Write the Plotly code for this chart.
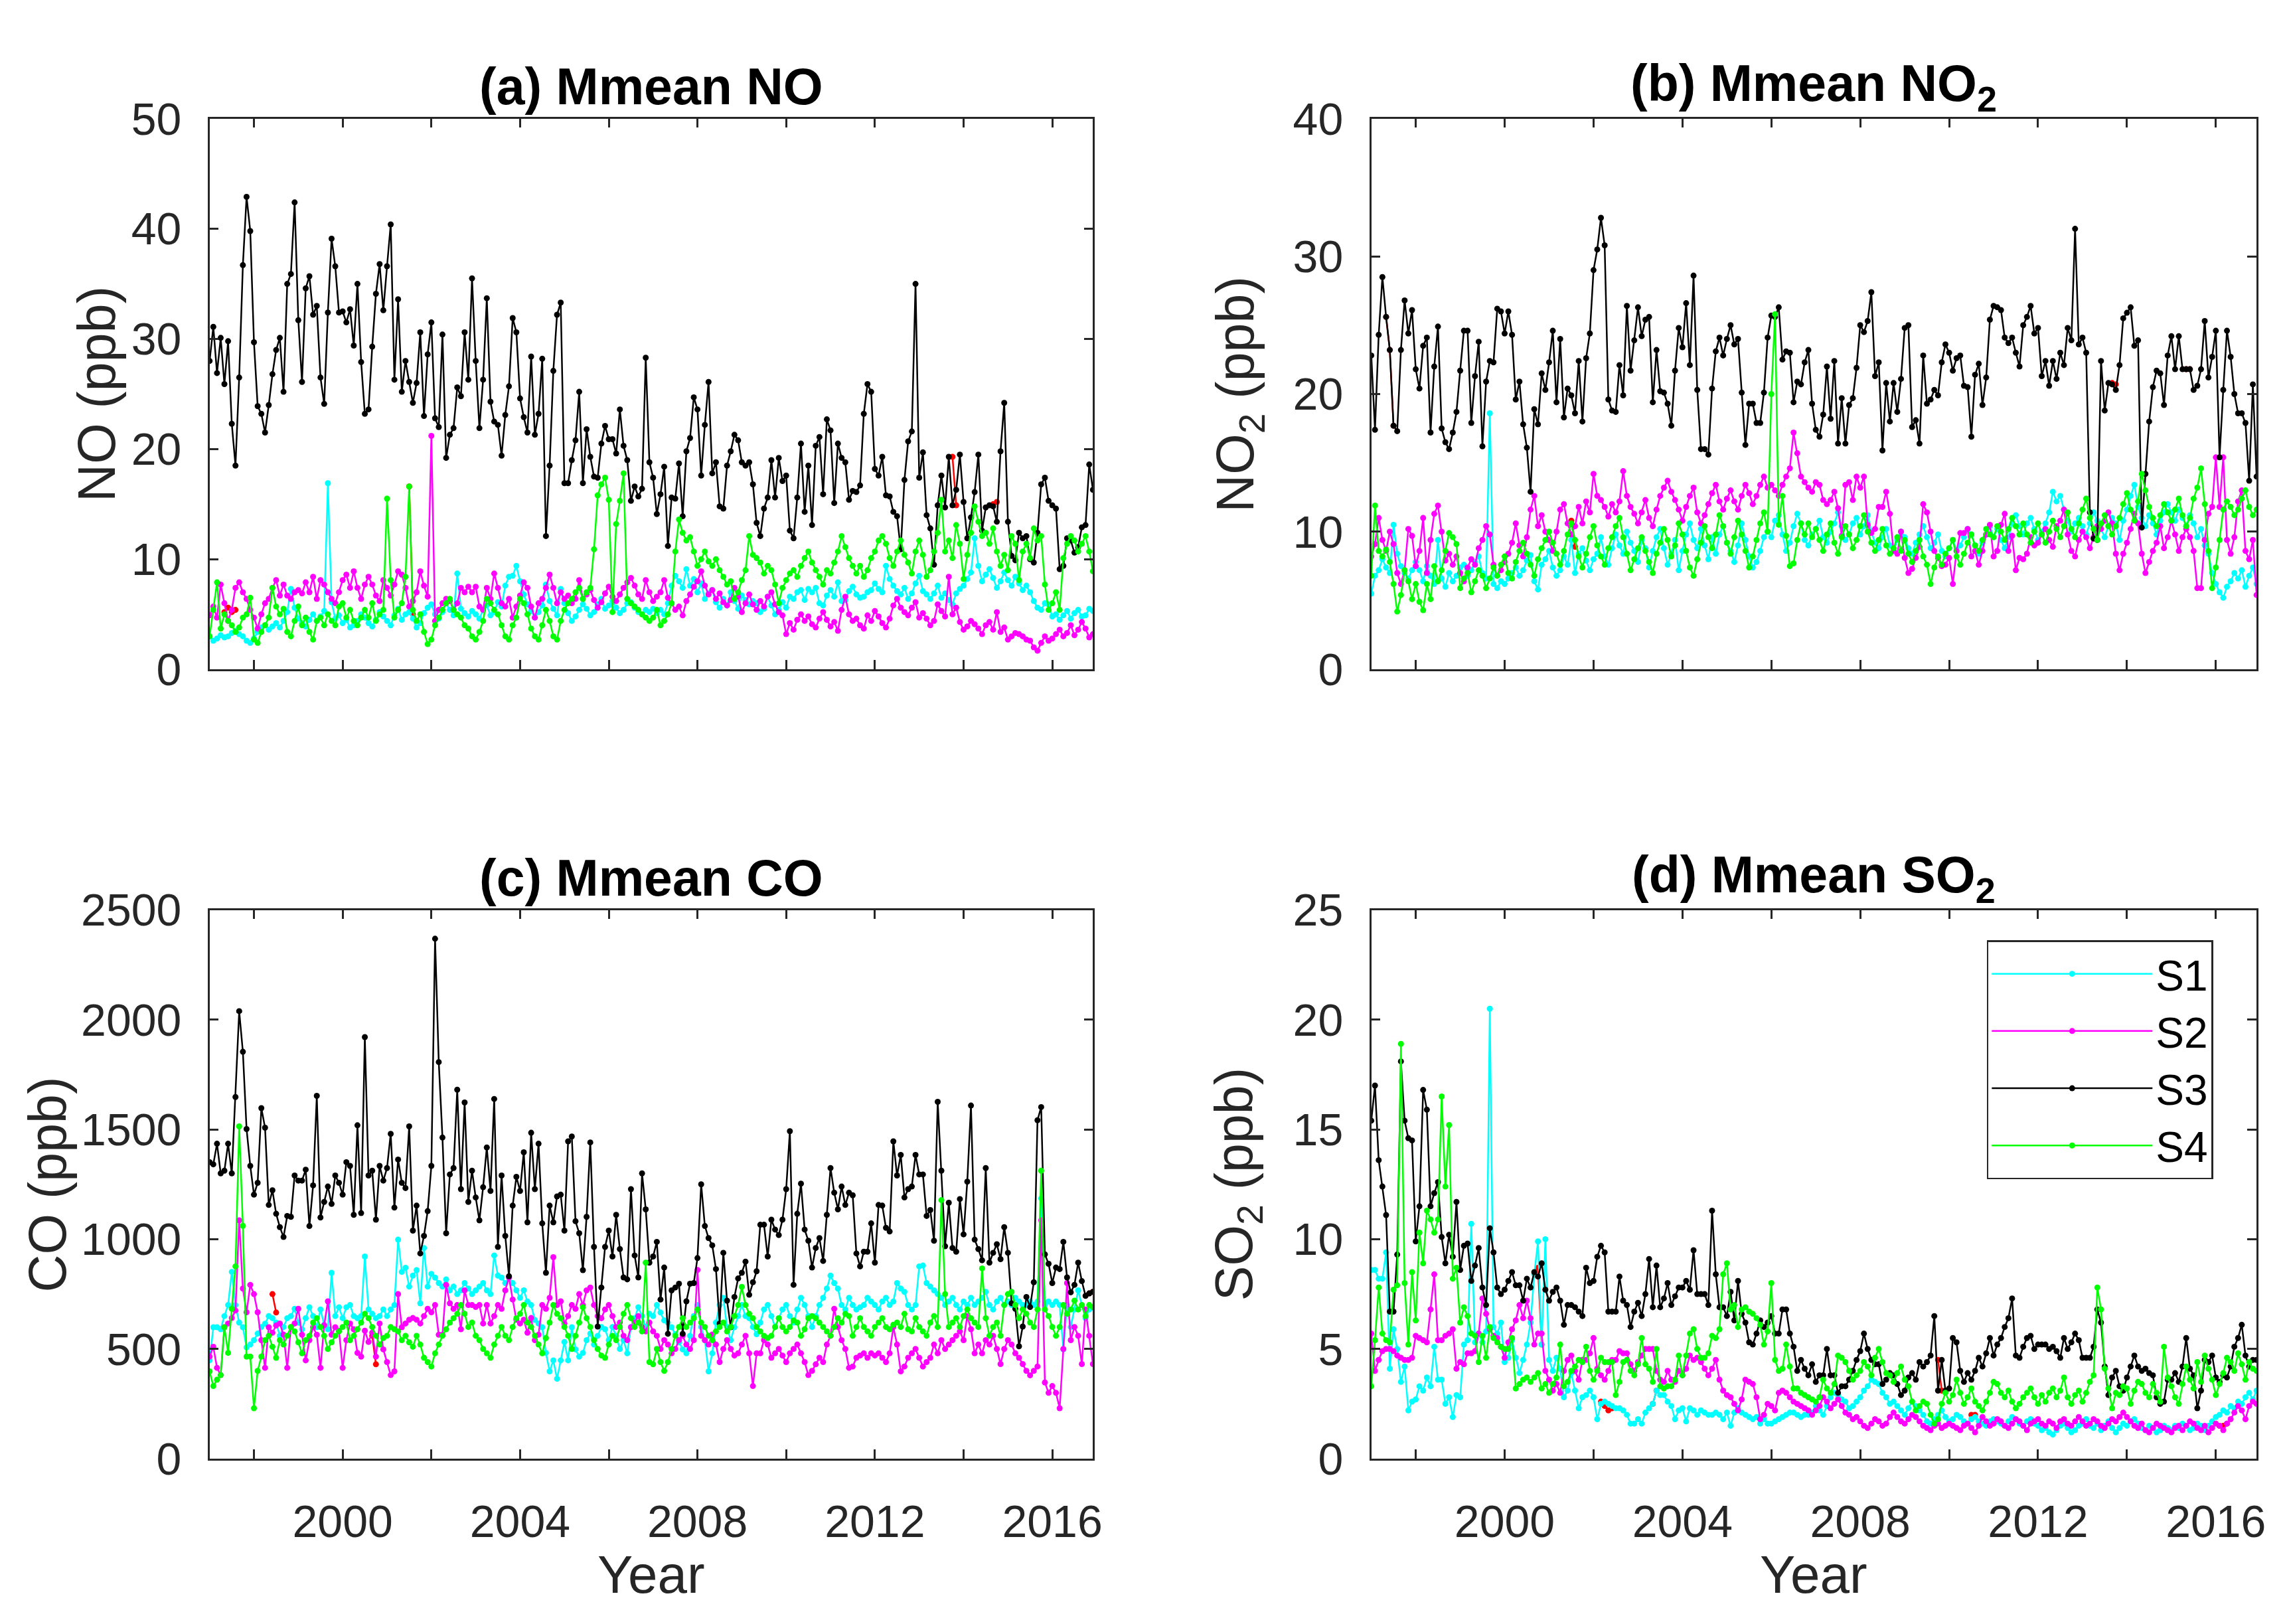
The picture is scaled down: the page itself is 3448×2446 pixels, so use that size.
import plotly.graph_objects as go

# monthly means, Jan 1997 .. Dec 2016 (one value per month)
START_YEAR = 1997

# ---------------- (a) NO (ppb) ----------------
no_s1 = [
    3.0, 2.6, 2.8, 3.1, 2.9, 3.0, 3.3, 3.5, 3.2, 3.0, 2.6, 2.4,
    2.8, 3.4, 3.8, 4.0, 3.6, 3.9, 4.2, 3.8, 4.4, 5.2, 7.3, 5.6,
    4.6, 4.2, 3.9, 4.5, 5.0, 4.4, 4.8, 5.3, 16.9, 6.1, 4.6, 4.9,
    4.2, 4.5, 3.8, 4.0, 4.4, 5.0, 4.7, 4.2, 3.9, 4.5, 5.2, 4.8,
    4.4, 4.0, 4.9, 5.5, 4.5, 5.0, 5.2, 4.6, 3.8, 4.2, 5.1, 5.6,
    5.9, 5.0, 4.6, 5.2, 6.0, 5.4, 4.9, 8.7, 5.5, 5.1, 4.8, 5.3,
    5.0, 4.6, 5.4, 5.8, 4.9, 5.2, 6.1, 5.7, 7.6, 8.4, 8.5, 9.4,
    8.0, 6.8, 5.9, 5.3, 4.7, 5.2, 5.8, 7.7, 6.2, 5.5, 4.9, 7.3,
    6.0, 5.1, 4.4, 4.8, 5.4, 5.9, 5.5, 4.9, 5.2, 5.9, 6.4, 5.5,
    5.8, 6.2, 5.6, 5.1, 5.4, 6.0, 6.1, 5.6, 5.2, 5.0, 5.4, 5.2,
    5.5, 5.1, 5.4, 5.0, 6.0, 7.6, 8.5, 8.0, 7.4, 9.1, 7.6, 8.2,
    7.0, 7.8, 6.4, 6.9, 7.2, 6.1, 5.6, 6.4, 5.8, 7.0, 6.2, 5.5,
    6.7, 6.3, 5.9, 6.2, 6.0, 5.2, 5.5, 6.6, 5.8, 5.0, 5.4, 6.1,
    5.6, 6.6, 6.4, 7.0, 7.2, 6.3, 7.3, 7.0, 7.4, 6.0, 5.8, 6.7,
    7.2, 6.6, 7.9, 6.2, 6.3, 7.1, 7.5, 6.8, 6.5, 6.6, 7.0, 7.2,
    7.8, 7.3, 7.0, 9.4, 8.2, 7.6, 7.1, 6.8, 7.4, 6.4, 6.9, 7.8,
    8.5, 7.1, 6.8, 6.4, 6.9, 7.6, 6.5, 6.9, 6.3, 5.9, 6.9, 7.3,
    7.6, 8.2, 8.8, 11.9, 9.4, 8.0, 8.6, 9.1, 8.3, 7.4, 8.0, 8.8,
    8.1, 7.6, 8.4, 7.8, 7.2, 7.6, 7.0, 6.2, 5.6, 5.4, 6.0, 5.9,
    4.8, 5.0, 4.5, 4.9, 5.3, 4.6, 5.1, 5.4, 4.8, 4.9, 5.5, 5.3,
]
no_s2 = [
    4.9, 5.7, 4.7, 7.7, 6.0, 4.4, 5.4, 7.4, 7.9, 7.0, 6.4, 5.4,
    4.7, 3.7, 5.0, 6.0, 6.4, 7.4, 8.1, 6.7, 7.7, 6.7, 6.4, 7.0,
    7.2, 6.9, 7.9, 7.0, 8.4, 6.4, 8.1, 7.7, 7.0, 6.4, 6.0, 7.0,
    8.1, 8.6, 7.4, 8.9, 7.4, 6.4, 7.7, 8.4, 7.7, 6.7, 6.2, 8.1,
    7.4, 6.7, 7.7, 8.9, 8.6, 7.4, 5.7, 6.2, 7.0, 8.9, 7.6, 6.6,
    21.2, 4.4, 5.4, 6.0, 6.4, 6.2, 5.4, 6.0, 7.4, 7.0, 7.5, 7.0,
    7.5, 5.7, 5.4, 7.4, 6.4, 8.7, 7.4, 6.0, 5.7, 6.4, 4.7, 5.7,
    6.7, 7.9, 7.4, 5.7, 4.7, 6.0, 6.4, 7.4, 8.6, 7.4, 6.0, 7.0,
    6.4, 6.7, 6.0, 6.4, 8.1, 6.4, 6.8, 7.2, 6.3, 5.6, 6.1, 6.9,
    7.5, 6.6, 6.2, 6.8, 7.4, 7.9, 8.3, 7.6, 6.8, 6.4, 8.1, 7.0,
    6.2, 6.6, 7.0, 8.1, 6.5, 6.0, 5.4, 5.7, 4.9, 6.2, 6.8, 7.5,
    8.0, 8.9, 7.6, 6.8, 7.2, 6.4, 6.9, 6.1, 5.8, 6.3, 7.4, 6.6,
    5.2, 6.0, 6.8, 5.9, 5.4, 6.2, 5.7, 6.6, 7.0, 5.9, 5.2, 4.9,
    3.2, 4.2, 3.6, 4.5, 5.0, 4.4, 4.8, 4.1, 3.8, 4.6, 5.2, 4.5,
    3.9, 4.3, 3.5, 5.4, 6.6, 5.0, 4.4, 4.6, 4.0, 3.7, 4.9, 4.4,
    5.3, 4.8, 4.2, 3.8, 4.6, 5.8, 6.4, 5.6, 5.2, 4.9, 5.6, 6.1,
    4.7, 5.1, 4.6, 4.0, 4.4, 5.9, 5.3, 4.8, 8.4, 5.0, 5.6, 4.3,
    3.6, 3.9, 4.4, 4.1, 3.7, 3.2, 4.0, 4.3, 3.6, 5.2, 3.4, 3.8,
    2.7, 3.0, 3.3, 3.2, 3.0, 2.7, 2.6, 2.0, 1.7, 2.4, 3.0, 2.6,
    2.8, 3.2, 3.6, 3.0, 3.3, 4.0, 3.1, 3.6, 4.3, 3.7, 2.9, 3.2,
]
no_s3 = [
    28.0, 31.1, 26.9, 30.1, 25.9, 29.8, 22.3, 18.5, 26.5, 36.7, 42.9, 39.8,
    29.7, 23.9, 23.2, 21.5, 24.0, 26.8, 29.0, 30.1, 25.2, 35.0, 35.9, 42.4,
    31.7, 26.1, 34.6, 35.7, 32.2, 33.0, 26.5, 24.1, 32.4, 39.1, 36.6, 32.4,
    32.5, 31.5, 32.7, 29.4, 35.0, 27.9, 23.2, 23.6, 29.3, 34.1, 36.8, 32.6,
    36.6, 40.4, 26.3, 33.6, 25.2, 28.0, 26.1, 24.2, 26.0, 30.6, 23.0, 28.6,
    31.5, 22.8, 22.0, 30.4, 19.2, 21.3, 21.9, 25.6, 24.8, 30.6, 26.3, 35.5,
    28.0, 21.9, 26.3, 33.7, 24.3, 22.5, 22.2, 19.4, 23.1, 25.7, 31.9, 30.6,
    24.6, 22.9, 21.5, 28.4, 21.3, 23.2, 28.2, 12.1, 18.5, 27.1, 32.2, 33.3,
    16.9, 16.9, 19.0, 20.8, 25.2, 16.9, 21.8, 19.3, 17.5, 17.4, 20.5, 22.1,
    20.9, 20.9, 19.6, 23.6, 20.3, 19.0, 15.3, 16.6, 15.7, 16.4, 28.3, 18.8,
    17.4, 14.1, 15.9, 18.4, 11.2, 15.6, 15.5, 18.7, 13.9, 19.8, 21.0, 24.7,
    23.6, 17.6, 22.2, 26.1, 17.8, 18.8, 14.8, 14.6, 18.5, 19.8, 21.3, 20.8,
    18.8, 18.5, 18.8, 16.8, 13.3, 12.1, 14.6, 15.6, 19.0, 15.6, 19.2, 17.1,
    17.6, 12.6, 11.9, 15.6, 20.5, 14.3, 18.5, 13.1, 20.3, 21.1, 15.9, 22.7,
    21.7, 15.1, 20.5, 19.2, 18.8, 15.4, 16.2, 16.1, 16.7, 23.2, 25.9, 25.2,
    18.2, 17.6, 19.3, 15.8, 15.7, 14.3, 13.9, 10.9, 17.2, 20.7, 21.6, 35.0,
    17.4, 19.7, 14.0, 12.8, 9.5, 14.9, 17.6, 14.7, 19.3, 14.9, 16.3, 19.5,
    15.2, 11.9, 13.8, 16.1, 19.5, 12.6, 14.7, 14.9, 14.8, 13.4, 19.8, 24.2,
    13.4, 10.3, 9.9, 12.4, 11.9, 12.1, 10.0, 9.7, 12.4, 16.8, 17.4, 15.3,
    14.9, 14.6, 9.1, 9.4, 11.9, 11.7, 10.6, 11.1, 12.9, 13.1, 18.6, 16.3,
]
no_s4 = [
    3.0, 5.4, 7.9, 3.7, 5.0, 4.4, 4.0, 3.4, 3.8, 4.7, 5.0, 6.5,
    2.7, 2.4, 3.4, 4.0, 4.7, 7.4, 5.7, 5.0, 5.5, 3.4, 3.0, 4.4,
    5.7, 4.0, 4.7, 3.4, 2.7, 4.4, 4.7, 4.0, 5.0, 4.4, 4.0, 5.7,
    6.0, 4.7, 5.4, 4.4, 4.0, 4.7, 5.4, 4.7, 6.0, 4.4, 5.0, 5.4,
    15.5, 8.1, 4.7, 5.4, 6.0, 8.4, 16.6, 5.4, 4.4, 5.0, 3.4, 2.3,
    2.7, 4.0, 4.7, 5.4, 6.0, 6.4, 5.4, 5.0, 4.7, 4.0, 3.7, 3.0,
    2.7, 3.4, 4.4, 6.4, 6.0, 5.4, 5.0, 4.0, 3.0, 2.7, 4.0, 4.7,
    6.4, 6.0, 5.0, 3.7, 3.0, 2.7, 4.0, 5.4, 4.4, 3.0, 2.7, 4.4,
    5.4, 6.0, 6.4, 7.0, 7.4, 6.4, 7.0, 7.4, 10.9, 15.8, 16.8, 17.4,
    15.4, 5.2, 13.2, 15.3, 17.8, 6.4, 6.0, 5.7, 5.4, 5.0, 4.7, 4.4,
    4.7, 5.4, 4.0, 4.4, 5.0, 6.0, 10.7, 13.6, 12.4, 11.7, 12.0, 10.7,
    9.4, 10.0, 10.7, 9.8, 9.4, 10.0, 9.0, 8.4, 7.7, 8.0, 6.4, 7.0,
    8.1, 9.0, 12.1, 10.4, 10.1, 9.7, 8.7, 9.4, 9.0, 7.7, 6.0, 7.4,
    8.1, 8.7, 9.0, 8.4, 9.4, 10.1, 10.7, 9.7, 9.0, 8.4, 7.7, 9.0,
    8.7, 9.7, 10.7, 12.1, 11.1, 10.1, 9.4, 8.7, 9.4, 8.4, 9.0, 10.1,
    10.7, 11.7, 12.1, 11.4, 10.1, 9.4, 10.7, 11.7, 10.4, 9.7, 8.7, 10.7,
    11.7, 10.4, 8.4, 9.0, 10.7, 12.4, 15.4, 10.7, 11.7, 10.1, 13.1, 11.4,
    8.2, 10.4, 12.4, 14.8, 13.4, 12.1, 12.4, 11.4, 12.8, 10.7, 9.4, 10.4,
    9.0, 12.1, 11.4, 8.1, 10.7, 11.4, 10.1, 12.8, 11.7, 12.1, 7.7, 5.4,
    6.0, 7.0, 5.4, 10.1, 11.4, 12.1, 11.7, 10.7, 11.4, 12.1, 10.7, 8.9,
]

# ---------------- (b) NO2 (ppb) ----------------
no2_s1 = [
    5.5, 6.8, 7.2, 8.0, 7.4, 7.0, 10.5, 8.4, 7.5, 7.0, 6.6, 7.2,
    7.8, 7.2, 6.4, 7.5, 6.8, 6.2, 9.4, 6.6, 6.0, 7.0, 6.4, 6.8,
    7.4, 7.6, 6.8, 7.2, 7.8, 8.2, 7.0, 6.6, 18.6, 6.2, 5.9, 6.4,
    6.2, 6.6, 7.0, 7.4, 6.8, 7.2, 7.9, 8.3, 6.4, 5.8, 7.6, 8.0,
    8.6, 7.4, 6.8, 7.2, 8.2, 7.6, 9.4, 7.0, 8.4, 8.8, 7.9, 7.2,
    8.0, 8.4, 9.6, 8.2, 7.6, 8.8, 9.8, 9.0, 8.4, 10.0, 9.2, 8.6,
    7.8, 9.4, 8.8, 7.4, 8.6, 9.6, 10.2, 8.8, 7.6, 8.4, 9.4, 7.2,
    8.6, 9.8, 10.6, 9.4, 8.8, 10.2, 9.0, 8.0, 9.6, 8.4, 9.8, 10.4,
    9.2, 8.6, 7.8, 9.0, 10.6, 9.4, 8.2, 7.4, 7.8, 8.6, 9.6, 10.0,
    9.6, 10.8, 11.2, 9.8, 8.6, 9.2, 10.4, 11.3, 10.6, 9.4, 9.0, 9.8,
    10.2, 10.8, 9.6, 9.2, 10.0, 10.6, 11.4, 10.4, 9.4, 9.8, 10.6, 11.0,
    9.8, 10.4, 11.2, 10.0, 9.2, 8.8, 9.6, 10.2, 9.0, 8.6, 9.4, 10.0,
    9.6, 8.8, 8.4, 9.2, 9.8, 10.4, 9.6, 8.8, 9.2, 9.8, 8.6, 8.2,
    8.8, 9.4, 8.6, 9.0, 9.6, 10.2, 9.8, 9.0, 8.4, 9.2, 9.8, 10.4,
    9.6, 10.2, 9.4, 8.8, 9.6, 10.6, 11.2, 10.4, 9.8, 10.6, 11.0, 10.2,
    9.4, 10.0, 10.6, 11.4, 12.9, 12.2, 12.6, 11.6, 10.8, 10.0, 10.6, 11.0,
    10.4, 9.8, 10.6, 11.4, 10.8, 10.2, 9.6, 10.4, 11.0, 10.6, 9.4, 10.8,
    11.6, 12.6, 13.4, 11.8, 11.0, 10.4, 11.2, 10.6, 9.8, 10.8, 11.4, 12.0,
    11.4, 10.8, 11.6, 11.0, 10.4, 11.2, 10.6, 9.6, 10.2, 9.0, 8.4, 7.0,
    6.2, 5.6, 5.2, 6.0, 6.4, 7.0, 6.6, 7.2, 6.0, 6.8, 7.4, 6.2,
]
no2_s2 = [
    8.2, 9.1, 11.0, 9.4, 8.6, 10.0, 9.1, 7.0, 6.2, 7.2, 10.2, 9.7,
    7.5, 8.6, 11.0, 7.0, 9.4, 11.3, 11.9, 10.0, 7.9, 8.4, 7.6, 8.2,
    7.0, 6.4, 7.4, 8.0, 7.6, 8.8, 9.4, 10.4, 9.8, 7.6, 6.8, 7.2,
    7.8, 8.4, 9.2, 10.6, 9.0, 8.2, 9.6, 11.6, 12.6, 10.4, 11.2, 10.0,
    9.4, 8.6, 10.0, 11.6, 12.0, 10.6, 9.8, 10.4, 11.8, 10.6, 12.2, 11.4,
    14.2, 12.6, 12.3, 11.8, 11.1, 12.0, 11.4, 12.2, 14.4, 12.6, 11.8, 11.3,
    10.6, 11.4, 12.3, 11.0, 10.4, 11.6, 12.6, 13.2, 13.7, 12.9, 12.3, 11.6,
    10.8, 11.8, 12.6, 13.2, 11.4, 10.6, 11.2, 12.0, 12.8, 13.4, 12.2, 11.6,
    12.4, 13.0, 12.2, 11.6, 12.6, 13.4, 12.8, 12.0, 12.6, 13.4, 14.0, 13.2,
    13.4, 13.0, 12.6, 13.4, 14.0, 14.6, 17.2, 15.7, 14.0, 13.6, 13.2, 12.9,
    13.6, 13.4, 12.3, 12.0, 12.3, 12.9, 11.7, 9.7, 13.4, 13.6, 12.3, 14.0,
    13.2, 14.0, 10.5, 9.9, 10.2, 11.8, 11.8, 12.9, 11.3, 8.6, 8.4, 10.0,
    8.1, 7.0, 7.3, 8.1, 8.9, 12.0, 11.4, 10.0, 8.6, 8.1, 7.5, 7.6,
    8.1, 6.2, 8.6, 9.9, 9.9, 10.2, 8.2, 8.6, 7.6, 8.6, 9.8, 10.5,
    8.2, 8.6, 10.5, 11.3, 8.6, 9.7, 7.2, 8.1, 8.0, 8.4, 9.6, 9.0,
    9.2, 9.8, 10.2, 9.4, 8.9, 10.4, 10.8, 11.6, 9.8, 8.6, 8.2, 9.4,
    10.0, 9.6, 8.8, 9.6, 10.4, 10.2, 10.8, 11.4, 10.6, 8.4, 7.2, 8.4,
    9.2, 10.2, 11.3, 10.6, 8.4, 7.0, 7.8, 8.6, 9.2, 10.4, 8.8, 9.6,
    10.8, 9.8, 8.6, 9.6, 10.2, 9.6, 8.6, 5.9, 5.9, 9.4, 11.3, 11.8,
    15.4, 11.8, 15.4, 9.4, 8.4, 9.6, 12.2, 13.0, 8.6, 8.0, 9.4, 5.4,
]
no2_s3 = [
    22.8, 17.4, 24.3, 28.5, 25.6, 23.2, 17.7, 17.3, 23.2, 26.8, 24.4, 26.1,
    21.8, 20.4, 23.5, 24.1, 17.2, 22.0, 24.9, 17.5, 16.5, 16.0, 17.2, 18.7,
    21.7, 24.6, 24.6, 17.9, 21.3, 23.8, 16.2, 20.9, 22.4, 22.3, 26.2, 26.0,
    24.4, 26.0, 24.3, 19.6, 20.9, 17.8, 16.1, 12.9, 18.9, 17.8, 21.5, 20.3,
    22.3, 24.6, 19.4, 24.0, 18.3, 20.4, 19.9, 18.6, 22.4, 18.0, 22.6, 24.4,
    29.0, 30.5, 32.8, 30.8, 19.6, 18.8, 18.7, 22.1, 19.9, 26.4, 21.7, 23.9,
    26.3, 24.2, 25.4, 25.6, 19.4, 23.2, 20.2, 20.1, 19.3, 17.7, 21.7, 24.8,
    23.4, 26.6, 22.1, 28.6, 20.3, 16.0, 16.0, 15.6, 20.4, 23.1, 24.1, 22.8,
    24.0, 25.0, 23.6, 24.0, 20.1, 16.3, 19.3, 19.3, 17.9, 17.9, 20.1, 24.1,
    25.7, 25.6, 26.3, 22.5, 23.1, 23.0, 19.4, 20.9, 20.7, 22.3, 23.2, 19.3,
    17.4, 16.9, 18.5, 22.0, 18.2, 22.4, 16.4, 19.7, 16.4, 19.2, 19.7, 21.9,
    25.0, 24.5, 25.3, 27.4, 21.3, 22.3, 15.9, 20.8, 18.0, 20.8, 18.7, 21.1,
    24.8, 25.0, 17.6, 18.1, 16.4, 22.8, 19.3, 19.6, 20.3, 19.9, 22.3, 23.6,
    23.0, 21.7, 22.6, 22.8, 20.6, 20.5, 16.9, 21.4, 22.2, 19.2, 21.2, 25.4,
    26.4, 26.3, 26.1, 24.1, 23.7, 24.1, 23.0, 22.0, 25.0, 25.6, 26.4, 24.4,
    24.8, 21.3, 22.4, 20.6, 22.4, 21.1, 23.0, 22.1, 24.8, 23.9, 32.0, 23.6,
    24.1, 23.0, 11.4, 9.5, 9.4, 22.4, 18.8, 20.8, 20.7, 20.3, 22.1, 25.5,
    25.9, 26.3, 23.5, 23.9, 10.3, 14.2, 18.0, 20.5, 21.7, 21.5, 19.2, 22.8,
    24.2, 21.8, 24.2, 21.8, 21.8, 21.8, 20.3, 20.6, 21.8, 25.3, 21.2, 22.7,
    24.6, 15.4, 20.3, 24.6, 22.7, 20.0, 18.6, 18.6, 17.9, 13.7, 20.7, 14.0,
]
no2_s4 = [
    6.8, 11.9, 8.6, 8.2, 8.7, 7.8, 6.2, 4.2, 5.4, 7.2, 6.4, 5.1,
    6.2, 4.9, 4.3, 6.2, 5.1, 7.5, 6.4, 7.2, 8.6, 9.9, 9.6, 9.1,
    5.9, 6.6, 7.0, 5.6, 6.4, 7.2, 6.8, 5.9, 6.6, 7.4, 6.8, 7.6,
    8.2, 7.0, 6.6, 7.8, 8.6, 9.2, 8.4, 7.6, 6.8, 8.0, 8.8, 9.4,
    10.0, 9.2, 8.4, 7.6, 8.6, 9.8, 10.6, 9.4, 8.2, 7.4, 8.4, 9.6,
    10.4, 9.0, 8.2, 7.6, 8.8, 9.6, 10.4, 11.0, 9.6, 8.4, 7.2, 8.0,
    8.8, 9.6, 8.6, 7.8, 7.0, 8.4, 9.2, 10.2, 9.4, 8.2, 9.0, 10.6,
    9.8, 8.6, 7.4, 6.8, 8.0, 9.2, 10.4, 9.6, 8.8, 9.8, 11.2, 10.4,
    9.2, 8.4, 9.6, 10.8, 9.8, 8.6, 7.4, 8.2, 9.4, 10.6, 11.4, 10.0,
    20.0, 25.8, 10.5, 12.6, 9.7, 7.5, 7.7, 9.4, 10.6, 9.8, 10.6, 9.6,
    10.2, 9.4, 8.6, 9.8, 10.6, 9.2, 8.4, 9.6, 10.4, 9.8, 8.8, 9.4,
    10.4, 11.2, 10.0, 9.2, 8.6, 9.4, 10.2, 9.0, 8.4, 8.8, 9.6, 8.6,
    9.4, 8.4, 7.8, 8.6, 9.4, 8.2, 7.6, 6.2, 7.4, 8.2, 7.6, 8.4,
    8.8, 9.4, 8.2, 7.6, 8.4, 9.2, 9.8, 9.0, 8.6, 9.4, 10.2, 9.8,
    9.6, 10.4, 10.0, 9.4, 10.2, 11.0, 10.4, 9.8, 10.6, 9.8, 9.2, 10.0,
    10.6, 9.8, 9.2, 10.0, 10.8, 10.2, 9.6, 10.4, 11.4, 10.2, 9.6, 10.6,
    11.6, 12.4, 11.0, 10.2, 9.4, 10.6, 11.2, 10.4, 9.8, 10.4, 11.0, 12.0,
    12.8, 11.6, 10.8, 12.2, 14.2, 13.0, 11.8, 11.0, 10.4, 11.2, 12.0, 11.4,
    10.8, 11.6, 12.4, 11.2, 10.4, 11.0, 12.4, 13.2, 14.6, 12.0, 8.6, 5.9,
    7.4, 9.4, 11.6, 12.2, 11.8, 11.2, 11.6, 12.4, 13.0, 11.8, 11.2, 11.6,
]

# ---------------- (c) CO (ppb) ----------------
co_s1 = [
    448, 599, 599, 590, 650, 700, 851, 700, 620, 599, 507, 520,
    540, 570, 600, 615, 650, 640, 620, 560, 600, 640, 650, 683,
    620, 590, 640, 690, 650, 599, 680, 610, 590, 847, 650, 690,
    640, 690, 700, 650, 640, 650, 921, 680, 660, 640, 650, 680,
    650, 680, 700, 998, 851, 870, 784, 834, 859, 708, 960, 784,
    842, 825, 800, 784, 817, 767, 784, 750, 767, 800, 775, 750,
    767, 784, 800, 767, 750, 926, 834, 825, 800, 825, 800, 767,
    733, 767, 716, 700, 632, 616, 599, 482, 398, 448, 364, 448,
    532, 448, 599, 498, 465, 482, 540, 570, 520, 560, 600, 590,
    540, 600, 560, 500, 540, 480, 600, 640, 690, 650, 600, 660,
    650, 700, 666, 630, 620, 599, 567, 530, 498, 480, 560, 650,
    700, 600, 540, 398, 480, 620, 700, 733, 600, 540, 599, 650,
    700, 650, 640, 600, 567, 620, 680, 700, 650, 600, 640, 680,
    700, 650, 620, 680, 733, 700, 650, 600, 650, 700, 733, 775,
    834, 800, 775, 700, 680, 733, 700, 680, 690, 700, 733, 716,
    700, 680, 716, 733, 700, 716, 800, 775, 760, 700, 680, 700,
    876, 880, 800, 784, 767, 750, 733, 700, 716, 733, 700, 680,
    716, 700, 733, 700, 716, 733, 760, 700, 680, 716, 733, 700,
    716, 700, 733, 716, 700, 700, 716, 700, 716, 1186, 700, 716,
    700, 716, 700, 498, 700, 600, 680, 767, 700, 640, 680, 690,
]
co_s2 = [
    465, 510, 414, 381, 599, 616, 641, 675, 1086, 775, 667, 792,
    750, 667, 540, 414, 599, 574, 607, 616, 565, 414, 599, 616,
    683, 565, 448, 540, 599, 565, 414, 608, 717, 565, 599, 583,
    414, 540, 616, 590, 482, 465, 583, 532, 574, 465, 616, 498,
    440, 381, 398, 750, 599, 616, 633, 641, 633, 616, 650, 683,
    667, 700, 565, 565, 792, 708, 683, 700, 590, 767, 700, 700,
    691, 700, 616, 700, 616, 650, 700, 683, 767, 826, 725, 633,
    616, 633, 574, 641, 540, 565, 700, 683, 733, 918, 700, 717,
    616, 650, 700, 683, 750, 700, 767, 780, 700, 650, 640, 680,
    700, 650, 600, 620, 560, 540, 599, 620, 650, 600, 580, 620,
    580, 560, 500, 540, 520, 480, 500, 540, 560, 520, 500, 540,
    860, 560, 540, 520, 566, 520, 440, 500, 540, 500, 470, 480,
    520, 560, 480, 331, 480, 480, 540, 520, 460, 480, 500, 470,
    440, 480, 500, 520, 480, 440, 381, 400, 430, 460, 440, 520,
    560, 683, 600, 540, 500, 414, 420, 460, 470, 480, 460, 480,
    470, 480, 460, 440, 480, 600, 520, 398, 420, 460, 480, 500,
    460, 420, 440, 460, 520, 480, 540, 500, 520, 540, 560, 580,
    540, 650, 590, 480, 520, 480, 540, 520, 560, 500, 431, 500,
    540, 520, 480, 460, 431, 400, 380, 400, 420, 1086, 347, 300,
    331, 300, 230, 500, 800, 540, 600, 560, 431, 680, 560, 431,
]
co_s3 = [
    1351, 1341, 1435, 1300, 1312, 1435, 1300, 1648, 2039, 1854, 1502, 1334,
    1203, 1257, 1597, 1508, 1156, 1223, 1116, 1055, 1010, 1106, 1102, 1290,
    1267, 1267, 1317, 1060, 1245, 1653, 1099, 1170, 1240, 1161, 1290, 1257,
    1203, 1351, 1334, 1111, 1519, 1119, 1921, 1290, 1312, 1089, 1334, 1267,
    1324, 1480, 1144, 1363, 1257, 1233, 1514, 1039, 1153, 935, 1015, 1128,
    1334, 2369, 1807, 1463, 1027, 1295, 1324, 1681, 1228, 1623, 1170, 1312,
    1190, 1086, 1237, 1418, 1220, 1639, 965, 1290, 1015, 831, 1153, 1284,
    1220, 1396, 1077, 1485, 1228, 1435, 1072, 847, 1153, 1077, 1195, 1203,
    1039, 1446, 1468, 1082, 1027, 859, 1102, 1441, 965, 602, 780, 965,
    1039, 921, 1111, 955, 826, 817, 1228, 926, 826, 1300, 1136, 893,
    921, 988, 725, 871, 569, 767, 780, 797, 569, 717, 797, 800,
    914, 1250, 1060, 1005, 972, 864, 616, 938, 720, 599, 737, 821,
    847, 898, 747, 804, 854, 1066, 1066, 921, 1089, 1044, 1019, 1089,
    1228, 1492, 792, 1116, 1253, 1044, 993, 871, 960, 1005, 901, 1111,
    1324, 1212, 1136, 1240, 1156, 1212, 1200, 935, 876, 943, 943, 1072,
    893, 1156, 1153, 1052, 1035, 1446, 1290, 1384, 1190, 1228, 1240, 1384,
    1295, 1295, 1106, 1133, 993, 1626, 1312, 968, 1166, 960, 943, 1183,
    1022, 1262, 1609, 998, 955, 904, 1324, 893, 938, 977, 909, 1055,
    938, 708, 683, 512, 602, 737, 691, 804, 1542, 1602, 931, 888,
    800, 871, 864, 988, 826, 758, 792, 893, 809, 742, 753, 760,
]
co_s4 = [
    398, 331, 360, 381, 599, 482, 683, 876, 1514, 1061, 465, 465,
    230, 400, 465, 540, 560, 510, 460, 540, 520, 560, 600, 580,
    530, 480, 540, 560, 620, 640, 600, 560, 500, 530, 560, 580,
    600, 620, 540, 560, 590, 620, 660, 640, 600, 560, 520, 550,
    560, 600, 590, 580, 540, 560, 530, 510, 560, 520, 460, 440,
    420, 480, 520, 560, 590, 620, 640, 660, 700, 660, 600, 620,
    560, 540, 500, 480, 460, 520, 560, 600, 560, 540, 600, 640,
    660, 700, 620, 600, 560, 520, 480, 550, 620, 700, 660, 640,
    600, 560, 500, 560, 620, 690, 640, 600, 540, 500, 470, 460,
    520, 560, 540, 600, 660, 700, 640, 600, 620, 580, 893, 440,
    430, 500, 440, 400, 440, 500, 560, 600, 640, 600, 620, 640,
    680, 620, 600, 560, 540, 580, 600, 620, 580, 600, 650, 700,
    783, 700, 660, 640, 600, 580, 560, 550, 560, 600, 640, 600,
    580, 600, 630, 620, 560, 590, 640, 650, 640, 620, 600, 580,
    560, 600, 640, 620, 660, 650, 560, 600, 640, 600, 580, 560,
    600, 620, 640, 600, 590, 610, 620, 600, 660, 590, 580, 640,
    600, 580, 560, 620, 650, 600, 1178, 750, 600, 620, 640, 600,
    650, 680, 640, 620, 600, 867, 640, 560, 600, 620, 560, 700,
    750, 760, 700, 640, 680, 660, 620, 600, 680, 1312, 680, 650,
    600, 560, 600, 700, 660, 680, 720, 680, 700, 650, 700, 690,
]

# ---------------- (d) SO2 (ppb) ----------------
so2_s1 = [
    8.6, 8.6, 8.2, 8.2, 9.4, 4.1, 5.9, 5.0, 3.5, 4.2, 2.2, 2.6,
    2.7, 3.3, 3.1, 3.7, 3.3, 5.1, 3.6, 3.6, 2.5, 2.8, 1.9, 2.9,
    2.8, 5.2, 5.4, 10.7, 5.3, 5.7, 5.3, 5.8, 20.5, 6.0, 5.7, 6.2,
    4.4, 4.6, 5.4, 4.6, 3.9, 4.5, 5.2, 6.2, 8.4, 9.9, 5.2, 10.0,
    4.5, 4.0, 4.6, 4.1, 2.8, 3.1, 3.9, 3.1, 2.3, 2.8, 2.9, 3.1,
    2.8, 1.8, 2.5, 2.6, 2.5, 2.4, 2.3, 2.3, 2.2, 2.0, 1.6, 1.6,
    1.8, 1.6, 2.1, 2.3, 2.5, 3.1, 2.9, 2.9, 2.6, 2.4, 1.8, 2.2,
    2.3, 1.7, 2.3, 2.2, 2.0, 2.2, 2.1, 2.0, 2.0, 2.1, 2.0, 1.8,
    2.1, 1.5, 2.1, 2.3, 2.1, 2.0, 1.9, 1.8, 1.9, 1.6, 1.8, 1.6,
    1.6, 1.7, 1.8, 1.9, 2.0, 2.1, 2.1, 2.0, 1.9, 2.0, 2.0, 2.1,
    2.4, 2.2, 2.0, 2.4, 2.8, 3.0, 2.9, 2.7, 2.6, 2.3, 2.4, 2.6,
    2.8, 3.1, 3.3, 3.6, 3.5, 3.4, 3.0, 2.8, 2.5, 2.6, 2.4, 2.2,
    2.0, 2.3, 2.6, 2.4, 2.2, 2.0, 1.7, 1.6, 1.8, 2.0, 2.2, 1.9,
    1.7, 1.8, 2.0, 1.9, 1.7, 1.6, 1.8, 1.9, 1.7, 1.6, 1.5, 1.7,
    1.8, 1.7, 1.6, 1.5, 1.7, 1.9, 1.8, 1.6, 1.5, 1.7, 1.8, 1.6,
    1.5, 1.3, 1.4, 1.2, 1.1, 1.3, 1.5, 1.6, 1.4, 1.2, 1.3, 1.5,
    1.6, 1.8, 1.5, 1.4, 1.6, 1.3, 1.5, 1.7, 1.4, 1.2, 1.4, 1.6,
    1.5, 1.7, 1.8, 1.6, 1.4, 1.3, 1.5, 1.4, 1.2, 1.3, 1.5, 1.4,
    1.3, 1.5, 1.4, 1.6, 1.5, 1.3, 1.4, 1.6, 1.5, 1.3, 1.5, 1.7,
    1.9, 2.0, 2.2, 2.1, 2.4, 2.3, 2.6, 2.5, 2.8, 3.0, 2.7, 3.1,
]
so2_s2 = [
    5.7, 4.0, 4.5, 4.9, 5.0, 5.0, 4.9, 4.7, 4.6, 4.5, 4.5, 4.6,
    5.6, 5.5, 5.4, 5.3, 6.8, 8.4, 5.4, 5.4, 5.6, 5.7, 5.9, 4.1,
    4.4, 4.3, 4.8, 4.8, 4.9, 5.7, 7.3, 6.6, 5.9, 5.6, 5.5, 5.1,
    4.6, 5.3, 5.9, 6.3, 7.0, 6.4, 7.2, 6.4, 5.2, 5.7, 5.7, 4.0,
    3.6, 3.1, 3.4, 3.0, 4.0, 4.5, 4.7, 4.0, 3.6, 4.5, 4.5, 4.8,
    5.5, 4.1, 3.8, 3.6, 4.0, 4.5, 4.5, 4.9, 4.8, 4.8, 4.3, 4.0,
    4.4, 4.7, 5.0, 5.0, 5.0, 4.0, 3.6, 3.5, 4.0, 3.6, 3.5, 4.0,
    3.8, 4.1, 4.7, 4.5, 4.6, 4.4, 4.1, 3.8, 4.1, 4.5, 3.6, 3.1,
    2.9, 2.8, 2.5, 2.2, 2.7, 3.6, 3.5, 3.4, 2.8, 1.8, 2.0, 2.5,
    2.4, 2.2, 3.0, 3.1, 3.0, 2.8, 2.6, 2.5, 2.4, 2.3, 2.2, 2.0,
    2.2, 2.4, 2.8, 2.6, 2.3, 2.5, 2.7, 2.4, 2.1, 2.0, 1.8, 1.9,
    1.7, 1.5, 1.4, 1.6, 1.8, 1.7, 1.5, 1.6, 1.9, 2.1, 1.9, 1.7,
    1.6, 1.8, 2.0, 1.9, 1.7, 1.5, 1.4, 1.3, 1.5, 1.6, 1.4, 1.5,
    1.6, 1.5, 1.4, 1.3, 1.5, 1.6, 1.4, 1.2, 1.5, 1.9, 1.7, 1.5,
    1.6, 1.8, 1.7, 1.5, 1.4, 1.6, 1.8, 1.7, 1.5, 1.3, 1.6, 1.7,
    1.8, 1.6, 1.5, 1.7, 1.6, 1.4, 1.7, 1.8, 1.6, 1.5, 1.7, 1.9,
    1.7, 1.5, 1.6, 1.8, 1.7, 1.5, 1.4, 1.6, 1.8, 1.7, 1.9, 2.1,
    1.9, 1.7, 1.5, 1.4, 1.6, 1.3, 1.2, 1.4, 1.6, 1.5, 1.4, 1.3,
    1.2, 1.4, 1.5, 1.3, 1.5, 1.7, 1.6, 1.4, 1.3, 1.5, 1.2, 1.4,
    1.6, 1.5, 1.3, 1.6, 1.8, 2.1, 2.4, 2.2, 1.8, 2.4, 2.6, 2.5,
]
so2_s3 = [
    15.4, 17.0, 13.6, 12.4, 11.1, 6.7, 6.7, 9.3, 18.1, 15.4, 14.6, 14.5,
    9.9, 11.5, 16.8, 15.9, 11.5, 12.1, 12.6, 10.1, 8.9, 10.2, 9.2, 11.7,
    8.6, 9.7, 9.8, 8.1, 8.8, 9.6, 7.8, 7.0, 10.5, 9.4, 7.8, 7.5,
    7.7, 8.1, 8.5, 7.9, 7.9, 7.2, 8.2, 7.8, 8.5, 8.3, 8.9, 7.7,
    7.2, 7.6, 7.8, 7.2, 6.1, 7.0, 7.0, 6.9, 6.7, 6.5, 8.7, 8.0,
    8.1, 9.2, 9.7, 9.4, 6.7, 6.7, 6.7, 8.3, 7.2, 7.0, 6.0, 6.7,
    7.1, 6.5, 7.5, 9.1, 6.9, 8.8, 6.9, 7.3, 8.0, 7.0, 7.4, 7.8,
    7.8, 8.1, 7.7, 9.5, 7.5, 7.5, 7.5, 7.0, 11.3, 8.4, 6.9, 6.9,
    6.5, 7.6, 6.3, 8.1, 6.6, 6.2, 5.3, 5.2, 5.7, 6.3, 6.0, 6.2,
    6.5, 5.7, 5.7, 6.8, 6.8, 5.7, 5.1, 4.0, 4.5, 4.1, 3.8, 4.3,
    3.5, 3.8, 3.8, 5.0, 3.8, 3.8, 3.0, 3.3, 3.3, 3.6, 4.0, 4.5,
    4.9, 5.7, 5.0, 4.5, 4.3, 4.3, 3.4, 3.6, 3.9, 3.8, 3.4, 2.9,
    3.1, 3.7, 3.9, 3.6, 4.4, 4.2, 4.4, 4.7, 6.5, 3.1, 4.5, 3.1,
    3.2, 5.5, 5.3, 4.0, 3.5, 3.9, 3.6, 4.0, 4.6, 4.2, 4.8, 5.5,
    4.7, 5.2, 5.5, 6.0, 6.4, 7.3, 4.7, 4.6, 5.1, 5.5, 5.6, 5.0,
    5.2, 5.2, 5.2, 5.0, 5.1, 4.9, 4.6, 5.5, 5.0, 5.3, 5.7, 5.4,
    4.6, 4.6, 4.6, 5.1, 6.8, 6.2, 4.2, 2.9, 3.7, 4.0, 3.3, 3.1,
    3.7, 4.2, 4.7, 4.2, 4.0, 4.1, 3.9, 3.8, 2.8, 2.5, 2.6, 3.6,
    3.6, 3.9, 3.5, 4.2, 5.5, 4.1, 3.8, 2.3, 3.1, 4.5, 4.4, 4.7,
    3.7, 3.5, 3.8, 3.7, 4.2, 5.1, 5.5, 6.1, 4.7, 4.2, 4.5, 4.5,
]
so2_s4 = [
    3.3, 5.4, 7.8, 5.7, 5.4, 5.3, 7.7, 7.9, 18.9, 8.0, 5.2, 8.5,
    6.3, 10.3, 8.9, 11.3, 10.9, 10.3, 10.9, 16.5, 12.4, 15.2, 8.2, 8.7,
    6.2, 6.9, 6.5, 5.7, 5.6, 4.4, 5.6, 4.6, 6.0, 5.5, 5.3, 5.1,
    5.0, 5.0, 5.5, 3.2, 3.4, 3.6, 3.7, 3.5, 3.7, 3.9, 3.2, 3.4,
    3.0, 3.4, 3.7, 5.2, 3.3, 3.5, 4.0, 4.2, 4.5, 4.4, 5.1, 4.0,
    3.6, 4.0, 4.6, 4.4, 4.4, 4.4, 2.9, 3.5, 4.4, 4.5, 4.0, 3.8,
    4.3, 5.5, 4.3, 4.1, 3.5, 5.0, 3.3, 3.2, 3.3, 3.3, 3.6, 4.7,
    3.8, 4.7, 5.7, 5.9, 5.0, 4.6, 4.6, 4.8, 5.6, 5.5, 5.9, 8.4,
    8.9, 6.8, 7.0, 6.0, 6.8, 6.9, 6.7, 6.6, 6.4, 6.1, 5.2, 5.8,
    8.0, 4.5, 4.0, 4.1, 5.2, 4.2, 3.2, 3.2, 3.0, 2.9, 2.8, 2.7,
    2.6, 2.8, 3.6, 3.2, 3.0, 3.4, 4.7, 4.6, 4.4, 4.0, 3.6, 3.8,
    4.0, 4.4, 4.2, 3.8, 4.6, 5.0, 4.4, 3.9, 3.8, 3.5, 3.9, 4.2,
    3.6, 3.3, 2.6, 2.2, 2.4, 2.6, 2.5, 2.0, 1.6, 1.8, 2.5, 3.0,
    2.6, 2.9, 3.6, 3.0, 2.5, 2.8, 3.2, 2.6, 2.4, 2.2, 2.6, 3.0,
    3.5, 3.4, 3.0, 2.8, 3.1, 2.6, 2.3, 2.5, 2.8, 3.0, 3.2, 2.8,
    2.5, 2.9, 2.6, 3.0, 3.2, 2.8, 3.1, 3.7, 2.8, 2.5, 2.9, 3.1,
    2.6, 3.0, 3.5, 3.8, 7.8, 6.8, 4.1, 3.2, 2.3, 3.0, 2.9, 3.3,
    3.2, 2.5, 3.1, 3.5, 3.4, 3.0, 2.8, 3.4, 3.0, 2.6, 5.1, 3.7,
    3.3, 2.8, 2.5, 3.4, 4.2, 3.6, 3.2, 4.4, 3.5, 4.7, 4.1, 3.6,
    2.9, 3.4, 3.9, 4.6, 4.4, 4.0, 4.8, 4.3, 3.6, 4.4, 4.1, 4.0,
]

# red pieces (gap-filled months), month index counted from Jan 1997, None = break
red_no_month = [4, 5, 6, 7, None, 54, 55, None, 201, 202, None, 212, 213]
red_no_val = [5.2, 5.6, 5.2, 5.4, None, 16.6, 5.0, None, 19.3, 14.9, None, 15.0, 15.2]
red_no2_month = [4, 5, 6, None, 54, 55, None, 200, 201, None, 220, 221]
red_no2_val = [25.6, 23.2, 17.7, None, 10.8, 8.9, None, 20.8, 20.7, None, 21.8, 21.8]
red_co_month = [17, 18, None, 44, 45, None, 238, 239]
red_co_val = [750, 666, None, 560, 430, None, 753, 760]
red_so2_month = [45, 46, None, 62, 63, 64, 65, None, 76, 77, None, 153, 154,
                 None, 162, 163, None, 229, 230, 231]
red_so2_val = [8.7, 5.2, None, 2.6, 2.4, 2.2, 2.3, None, 2.5, 3.1, None, 4.5, 3.1,
               None, 2.0, 2.0, None, 1.5, 1.5, 1.6]

station_names = ['S1', 'S2', 'S3', 'S4']
station_colors = ['#00FFFF', '#FF00FF', '#000000', '#00FF00']

tick_years = [1998, 2000, 2002, 2004, 2006, 2008, 2010, 2012, 2014, 2016]
tick_labels = ['', '2000', '', '2004', '', '2008', '', '2012', '', '2016']

FONT = 'Liberation Sans, Arial, Helvetica, sans-serif'
AXC = '#262626'
W, H = 3448, 2446


def months_to_years(n):
    return [START_YEAR + i / 12 for i in range(n)]


def red_x(months):
    return [None if m is None else START_YEAR + m / 12 for m in months]


# panels: axis suffix, series, red data, y max, y step
panels = [
    ('', [no_s1, no_s2, no_s3, no_s4], red_no_month, red_no_val, 50, 10),
    ('2', [no2_s1, no2_s2, no2_s3, no2_s4], red_no2_month, red_no2_val, 40, 10),
    ('3', [co_s1, co_s2, co_s3, co_s4], red_co_month, red_co_val, 2500, 500),
    ('4', [so2_s1, so2_s2, so2_s3, so2_s4], red_so2_month, red_so2_val, 25, 5),
]

fig = go.Figure()

for k, (ax, series, rm, rv, ymax, ystep) in enumerate(panels):
    # red gap-fill pieces go underneath
    fig.add_trace(go.Scatter(
        x=red_x(rm), y=rv, mode='lines+markers',
        line=dict(color='#FF0000', width=2.5),
        marker=dict(color='#FF0000', size=9),
        showlegend=False, connectgaps=False,
        xaxis='x' + ax, yaxis='y' + ax))
    for s, vals in enumerate(series):
        fig.add_trace(go.Scatter(
            x=months_to_years(len(vals)), y=vals, mode='lines+markers',
            name=station_names[s],
            line=dict(color=station_colors[s], width=2.5),
            marker=dict(color=station_colors[s], size=9),
            showlegend=(k == 3),
            xaxis='x' + ax, yaxis='y' + ax))

# axis box positions in pixels (left, right, top, bottom)
boxes = [
    (309, 1645, 137, 993),
    (2066, 3405, 137, 993),
    (309, 1645, 1367, 2220),
    (2066, 3405, 1367, 2220),
]

layout_axes = {}
for k, (l, r, t, b) in enumerate(boxes):
    suffix = '' if k == 0 else str(k + 1)
    ymax, ystep = panels[k][4], panels[k][5]
    common = dict(
        showline=True, linecolor=AXC, linewidth=2.5, mirror='ticks',
        ticks='inside', ticklen=14, tickwidth=2.5, tickcolor=AXC,
        showgrid=False, zeroline=False,
        tickfont=dict(family=FONT, size=68, color=AXC),
    )
    layout_axes['xaxis' + suffix] = dict(
        common, domain=[l / W, r / W], range=[1997, 1997 + 239 / 12],
        tickmode='array', tickvals=tick_years,
        ticktext=tick_labels if k >= 2 else [''] * len(tick_years),
        ticklabelstandoff=34,
        anchor='y' + suffix)
    layout_axes['yaxis' + suffix] = dict(
        common, domain=[1 - b / H, 1 - t / H], range=[0, ymax],
        tick0=0, dtick=ystep, ticklabelstandoff=26,
        anchor='x' + suffix)

fig.update_layout(**layout_axes)

# panel titles and axis titles
titles = ['<b>(a) Mmean NO</b>', '<b>(b) Mmean NO<sub>2</sub></b>',
          '<b>(c) Mmean CO</b>', '<b>(d) Mmean SO<sub>2</sub></b>']
ylabels = ['NO (ppb)', 'NO<sub>2</sub> (ppb)', 'CO (ppb)', 'SO<sub>2</sub> (ppb)']
ylabel_x = [138, 1866, 64, 1864]

ann = []
for k, (l, r, t, b) in enumerate(boxes):
    cx = (l + r) / 2
    ann.append(dict(text=titles[k], x=cx / W, y=1 - (t - 50) / H,
                    xref='paper', yref='paper', showarrow=False,
                    xanchor='center', yanchor='middle',
                    font=dict(family=FONT, size=77, color='black')))
    ann.append(dict(text=ylabels[k], x=ylabel_x[k] / W, y=1 - (t + b) / 2 / H,
                    xref='paper', yref='paper', showarrow=False, textangle=-90,
                    xanchor='center', yanchor='middle',
                    font=dict(family=FONT, size=79, color=AXC)))
    if k >= 2:
        ann.append(dict(text='Year', x=cx / W, y=1 - 2400 / H,
                        xref='paper', yref='paper', showarrow=False,
                        xanchor='center', yanchor='middle',
                        font=dict(family=FONT, size=80, color=AXC)))

fig.update_layout(
    width=W, height=H,
    margin=dict(l=0, r=0, t=0, b=0),
    paper_bgcolor='white', plot_bgcolor='white',
    annotations=ann,
    legend=dict(x=2997 / W, y=1 - 1414 / H, xanchor='left', yanchor='top',
                bgcolor='white', bordercolor=AXC, borderwidth=2.5,
                font=dict(family=FONT, size=64, color='black'),
                itemwidth=242, tracegroupgap=0),
)

fig.write_html("out.html")
